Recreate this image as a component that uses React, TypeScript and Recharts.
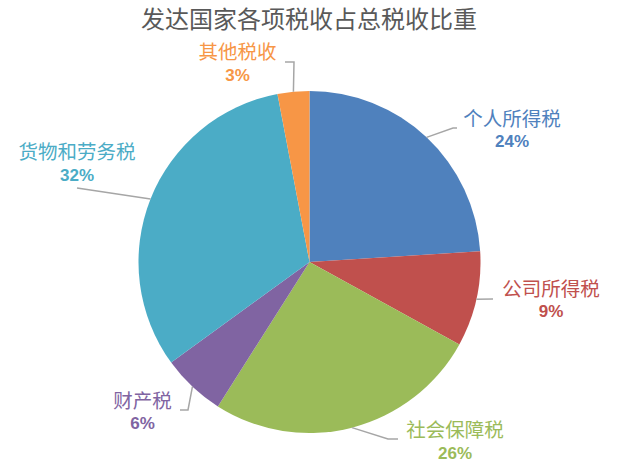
import { PieChart, Pie, Cell } from "recharts";

const CATEGORIES = ["个人所得税", "公司所得税", "社会保障税", "财产税", "货物和劳务税", "其他税收"];
const SHARES = [24, 9, 26, 6, 32, 3];
const COLORS = ["#4F81BD", "#C0504D", "#9BBB59", "#8064A2", "#4BACC6", "#F79646"];

const data = CATEGORIES.map((name, i) => ({ name, value: SHARES[i] }));

// label placement relative to the pie centre (text centre x, name y, percent y, leader line points)
const LABEL_LAYOUT = [
  { x: 202.5, nameY: -145, pctY: -121, line: [[143.5, -134], [147.5, -134]] },
  { x: 241.5, nameY: 25.5, pctY: 49.5, line: [[183.5, 37]] },
  { x: 145.5, nameY: 166, pctY: 191, line: [[78.5, 177], [88.5, 177]] },
  { x: -167, nameY: 137.5, pctY: 161, line: [[-121.5, 148], [-129.5, 148]] },
  { x: -232.5, nameY: -112, pctY: -87, line: [[-232.5, -74]] },
  { x: -72, nameY: -212, pctY: -187, line: [[-15.5, -200], [-24.5, -200]] },
];

const CJK = '"Noto Sans CJK SC", sans-serif';
const RADIAN = Math.PI / 180;

function SliceLabel(props: any) {
  const { cx, cy, midAngle, outerRadius, index, percent } = props;
  const layout = LABEL_LAYOUT[index];
  const color = COLORS[index];
  const sx = cx + Math.cos(-midAngle * RADIAN) * outerRadius;
  const sy = cy + Math.sin(-midAngle * RADIAN) * outerRadius;
  const pts = [[sx, sy], ...layout.line.map(([dx, dy]) => [cx + dx, cy + dy])];
  return (
    <g>
      <polyline
        points={pts.map((p) => p.join(",")).join(" ")}
        fill="none"
        stroke="#A6A6A6"
        strokeWidth={1.5}
      />
      <text
        x={cx + layout.x}
        y={cy + layout.nameY}
        textAnchor="middle"
        dominantBaseline="central"
        fill={color}
        fontFamily={CJK}
        fontSize={19.5}
      >
        {data[index].name}
      </text>
      <text
        x={cx + layout.x}
        y={cy + layout.pctY}
        textAnchor="middle"
        dominantBaseline="central"
        fill={color}
        fontFamily='"Liberation Sans", Arial, sans-serif'
        fontWeight="bold"
        fontSize={17}
      >
        {`${Math.round(percent * 100)}%`}
      </text>
    </g>
  );
}

export default function App() {
  return (
    <div style={{ position: "absolute", left: 0, top: 0, width: 624, height: 475, background: "#fff" }}>
      <div
        style={{
          position: "absolute",
          left: 0,
          top: 3,
          width: 618,
          textAlign: "center",
          fontFamily: CJK,
          fontSize: 24,
          lineHeight: "30px",
          color: "#595959",
        }}
      >
        发达国家各项税收占总税收比重
      </div>
      <PieChart width={624} height={475} margin={{ top: 0, right: 0, bottom: 0, left: 0 }}>
        <Pie
          data={data}
          dataKey="value"
          nameKey="name"
          cx={309.5}
          cy={262}
          outerRadius={171}
          startAngle={90}
          endAngle={-270}
          stroke="none"
          label={SliceLabel}
          labelLine={false}
          isAnimationActive={false}
        >
          {data.map((d, i) => (
            <Cell key={d.name} fill={COLORS[i]} />
          ))}
        </Pie>
      </PieChart>
    </div>
  );
}
